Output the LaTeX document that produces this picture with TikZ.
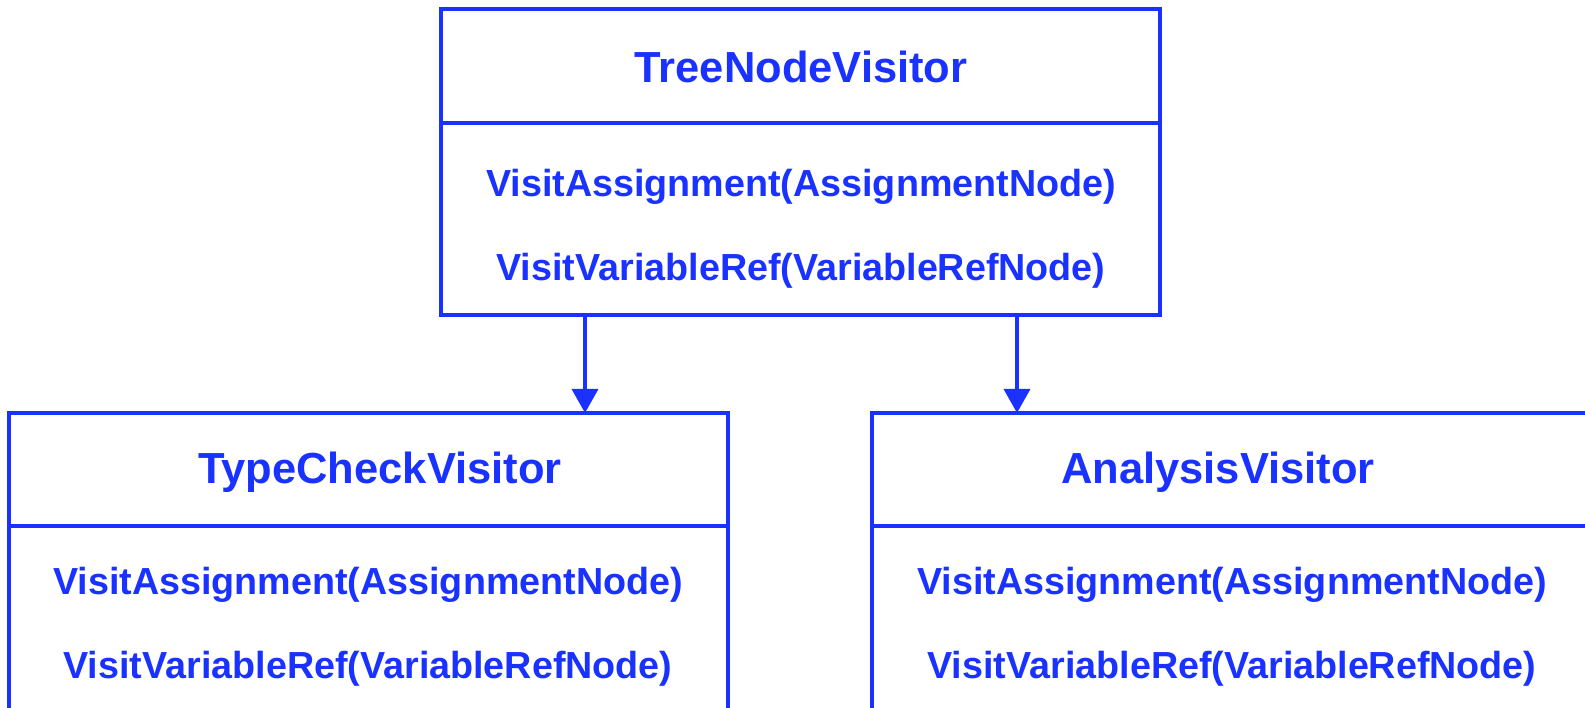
\documentclass[tikz,border=0pt]{standalone}
\usepackage{fontspec}
\setmainfont{Liberation Sans}
\usetikzlibrary{arrows.meta}
\definecolor{umlblue}{RGB}{25,50,255}

\begin{document}
\begin{tikzpicture}[x=1pt,y=-1pt,
	classbox/.style={draw=umlblue, line width=3.5pt, minimum width=719pt, inner sep=0pt, outer sep=0pt},
	classname/.style={text=umlblue, font=\fontsize{43.5}{48}\selectfont\bfseries},
	method/.style={text=umlblue, font=\fontsize{37.7}{42}\selectfont\bfseries},
	inherit/.style={draw=umlblue, line width=3.5pt, -{Triangle[length=24pt,width=26pt]}}]
	
	\useasboundingbox (0,0) rectangle (1585,708);
	
	% TreeNodeVisitor
	\node[classbox, minimum height=114pt, anchor=north west] (tnvhead) at (441,9) {};
	\node[classbox, minimum height=192pt, anchor=north] (tnvbody) at (tnvhead.south) {};
	\node[classname] (tnvname) at (801,67) {TreeNodeVisitor};
	\node[method] (tnvassign) at (801,187) {VisitAssignment(AssignmentNode)};
	\node[method] (tnvvarref) at (801,271) {VisitVariableRef(VariableRefNode)};
	
	% TypeCheckVisitor
	\node[classbox, minimum height=113pt, anchor=north west] (tcvhead) at (9,413) {};
	\node[classbox, minimum height=300pt, anchor=north] (tcvbody) at (tcvhead.south) {};
	\node[classname] (tcvname) at (380,472) {TypeCheckVisitor};
	\node[method] (tcvassign) at (368,585) {VisitAssignment(AssignmentNode)};
	\node[method] (tcvvarref) at (368,669) {VisitVariableRef(VariableRefNode)};
	
	% AnalysisVisitor
	\node[classbox, minimum height=113pt, anchor=north west] (avhead) at (872,413) {};
	\node[classbox, minimum height=300pt, anchor=north] (avbody) at (avhead.south) {};
	\node[classname] (avname) at (1218,472) {AnalysisVisitor};
	\node[method] (avassign) at (1232,585) {VisitAssignment(AssignmentNode)};
	\node[method] (avvarref) at (1232,669) {VisitVariableRef(VariableRefNode)};
	
	\coordinate (leftarrow) at (585,0);
	\coordinate (rightarrow) at (1017,0);
	\draw[inherit] (tnvbody.south -| leftarrow) -- (tcvhead.north -| leftarrow);
	\draw[inherit] (tnvbody.south -| rightarrow) -- (avhead.north -| rightarrow);
	
\end{tikzpicture}
\end{document}
